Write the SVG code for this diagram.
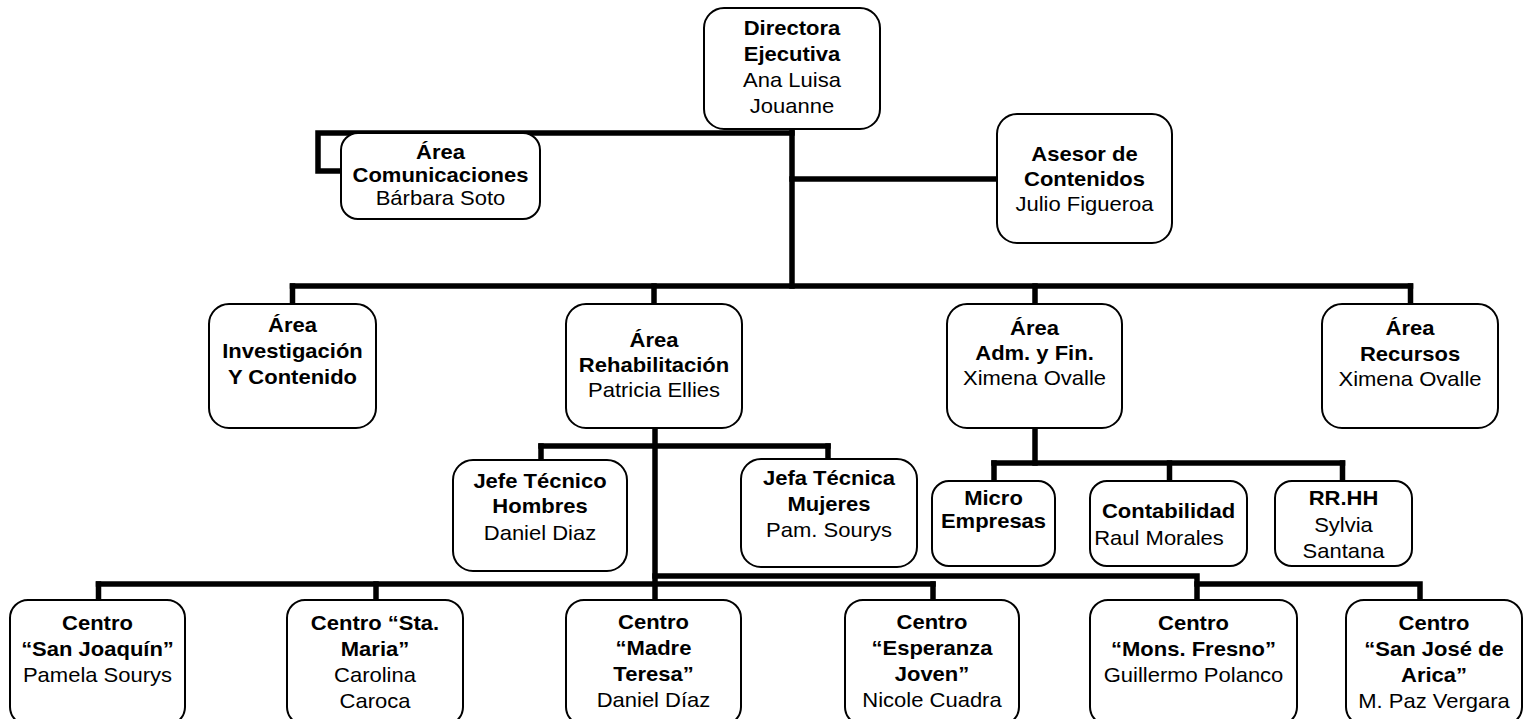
<svg xmlns="http://www.w3.org/2000/svg" width="1532" height="719" viewBox="0 0 1532 719">
<style>
.box{fill:#fff;stroke:#000;stroke-width:2}
.conn{fill:none;stroke:#000;stroke-width:5.5;stroke-linecap:square;stroke-linejoin:miter}
text{font-family:"Liberation Sans",Arial,sans-serif;font-size:20px;fill:#000;text-anchor:middle}
.b{font-weight:bold}
</style>
<rect width="1532" height="719" fill="#fff"/>
<g id="connectors" class="conn">
<path d="M792 129V286"/>
<path d="M792 133H318V171H341"/>
<path d="M792 179H997"/>
<path d="M292.5 286H1410.5"/>
<path d="M292.5 286V304M654 286V304M1035 286V304M1410.5 286V304"/>
<path d="M1035 428V463"/>
<path d="M994 463H1342.5"/>
<path d="M994 463V481M1169.5 463V481M1342.5 463V481"/>
<path d="M655 428V600"/>
<path d="M541 446H828"/>
<path d="M541 446V460M828 446V459"/>
<path d="M98.5 584H933"/>
<path d="M98.5 584V600M376 584V600M933 584V600"/>
<path d="M655 576H1197V600"/>
<path d="M1197 584H1420V600"/>
</g>
<g id="n-directora"><rect class="box" x="704" y="8" width="176" height="121" rx="20"/>
<g transform="translate(792 0) scale(1.1 1)"><text class="b" y="35">Directora</text><text class="b" y="61">Ejecutiva</text><text y="87">Ana Luisa</text><text y="113">Jouanne</text></g></g>
<g id="n-comunicaciones"><rect class="box" x="341" y="133" width="199" height="86" rx="17"/>
<g transform="translate(440.5 0) scale(1.1 1)"><text class="b" y="159">Área</text><text class="b" y="182">Comunicaciones</text><text y="205">Bárbara Soto</text></g></g>
<g id="n-asesor"><rect class="box" x="997" y="114" width="175" height="129" rx="20"/>
<g transform="translate(1084.5 0) scale(1.1 1)"><text class="b" y="161">Asesor de</text><text class="b" y="186">Contenidos</text><text y="211">Julio Figueroa</text></g></g>
<g id="n-investigacion"><rect class="box" x="209" y="304" width="167" height="124" rx="20"/>
<g transform="translate(292.5 0) scale(1.1 1)"><text class="b" y="332">Área</text><text class="b" y="358">Investigación</text><text class="b" y="384">Y Contenido</text></g></g>
<g id="n-rehabilitacion"><rect class="box" x="566" y="304" width="176" height="124" rx="20"/>
<g transform="translate(654 0) scale(1.1 1)"><text class="b" y="347">Área</text><text class="b" y="372">Rehabilitación</text><text y="397">Patricia Ellies</text></g></g>
<g id="n-adm"><rect class="box" x="947" y="304" width="175" height="124" rx="20"/>
<g transform="translate(1034.5 0) scale(1.1 1)"><text class="b" y="335">Área</text><text class="b" y="360">Adm. y Fin.</text><text y="385">Ximena Ovalle</text></g></g>
<g id="n-recursos"><rect class="box" x="1322" y="304" width="176" height="124" rx="20"/>
<g transform="translate(1410 0) scale(1.1 1)"><text class="b" y="335">Área</text><text class="b" y="361">Recursos</text><text y="386">Ximena Ovalle</text></g></g>
<g id="n-jefe-hombres"><rect class="box" x="453" y="460" width="174" height="111" rx="20"/>
<g transform="translate(540 0) scale(1.1 1)"><text class="b" y="488">Jefe Técnico</text><text class="b" y="513">Hombres</text><text y="540">Daniel Diaz</text></g></g>
<g id="n-jefa-mujeres"><rect class="box" x="741" y="459" width="176" height="108" rx="20"/>
<g transform="translate(829 0) scale(1.1 1)"><text class="b" y="485">Jefa Técnica</text><text class="b" y="511">Mujeres</text><text y="537">Pam. Sourys</text></g></g>
<g id="n-micro"><rect class="box" x="932" y="481" width="123" height="85" rx="17"/>
<g transform="translate(993.5 0) scale(1.1 1)"><text class="b" y="505">Micro</text><text class="b" y="528">Empresas</text></g></g>
<g id="n-contabilidad"><rect class="box" x="1090" y="481" width="157" height="85" rx="17"/>
<g transform="translate(1168.5 0) scale(1.1 1)"><text class="b" y="518">Contabilidad</text></g>
<g transform="translate(1159 0) scale(1.1 1)"><text y="545">Raul Morales</text></g></g>
<g id="n-rrhh"><rect class="box" x="1275" y="481" width="137" height="85" rx="17"/>
<g transform="translate(1343.5 0) scale(1.1 1)"><text class="b" y="505">RR.HH</text><text y="532">Sylvia</text><text y="558">Santana</text></g></g>
<g id="n-san-joaquin"><rect class="box" x="10" y="600" width="175" height="125" rx="18"/>
<g transform="translate(97.5 0) scale(1.1 1)"><text class="b" y="630">Centro</text><text class="b" y="656">“San Joaquín”</text><text y="682">Pamela Sourys</text></g></g>
<g id="n-sta-maria"><rect class="box" x="287" y="600" width="176" height="125" rx="18"/>
<g transform="translate(375 0) scale(1.1 1)"><text class="b" y="630">Centro “Sta.</text><text class="b" y="656">Maria”</text><text y="682">Carolina</text><text y="708">Caroca</text></g></g>
<g id="n-madre-teresa"><rect class="box" x="566" y="600" width="175" height="125" rx="18"/>
<g transform="translate(653.5 0) scale(1.1 1)"><text class="b" y="629">Centro</text><text class="b" y="655">“Madre</text><text class="b" y="681">Teresa”</text><text y="707">Daniel Díaz</text></g></g>
<g id="n-esperanza"><rect class="box" x="845" y="600" width="174" height="125" rx="18"/>
<g transform="translate(932 0) scale(1.1 1)"><text class="b" y="629">Centro</text><text class="b" y="655">“Esperanza</text><text class="b" y="681">Joven”</text><text y="707">Nicole Cuadra</text></g></g>
<g id="n-mons-fresno"><rect class="box" x="1090" y="600" width="207" height="125" rx="18"/>
<g transform="translate(1193.5 0) scale(1.1 1)"><text class="b" y="630">Centro</text><text class="b" y="656">“Mons. Fresno”</text><text y="682">Guillermo Polanco</text></g></g>
<g id="n-san-jose"><rect class="box" x="1346" y="600" width="176" height="125" rx="18"/>
<g transform="translate(1434 0) scale(1.1 1)"><text class="b" y="630">Centro</text><text class="b" y="656">“San José de</text><text class="b" y="682">Arica”</text><text y="708">M. Paz Vergara</text></g></g>
</svg>
